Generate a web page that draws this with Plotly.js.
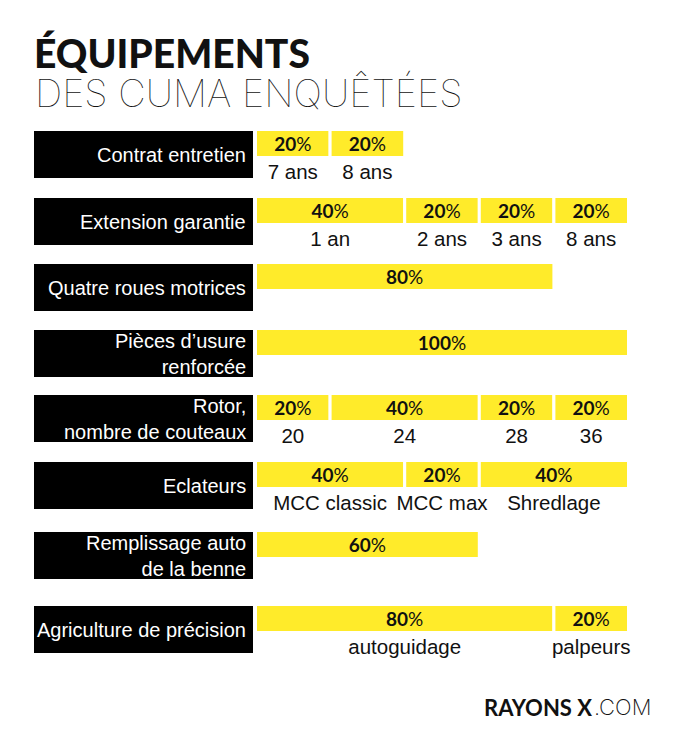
<!DOCTYPE html>
<html>
<head>
<meta charset="utf-8">
<script src="https://cdn.plot.ly/plotly-3.0.1.min.js"></script>
<style>html,body{margin:0;padding:0;background:#fff;}#chart{width:700px;height:747px;}</style>
</head>
<body>
<div id="chart"></div>
<script>
// ---- data ----
const categories = [
  "Contrat entretien",
  "Extension garantie",
  "Quatre roues motrices",
  "Pièces d’usure<br>renforcée",
  "Rotor,<br>nombre de couteaux",
  "Eclateurs",
  "Remplissage auto<br>de la benne",
  "Agriculture de précision"
];
const contratValues = [20, 20];
const contratLabels = ["7 ans", "8 ans"];
const extensionValues = [40, 20, 20, 20];
const extensionLabels = ["1 an", "2 ans", "3 ans", "8 ans"];
const quatreRouesValues = [80];
const quatreRouesLabels = [""];
const piecesValues = [100];
const piecesLabels = [""];
const rotorValues = [20, 40, 20, 20];
const rotorLabels = ["20", "24", "28", "36"];
const eclateursValues = [40, 20, 40];
const eclateursLabels = ["MCC classic", "MCC max", "Shredlage"];
const remplissageValues = [60];
const remplissageLabels = [""];
const agricultureValues = [80, 20];
const agricultureLabels = ["autoguidage", "palpeurs"];

const seriesValues = [contratValues, extensionValues, quatreRouesValues, piecesValues,
                      rotorValues, eclateursValues, remplissageValues, agricultureValues];
const seriesLabels = [contratLabels, extensionLabels, quatreRouesLabels, piecesLabels,
                      rotorLabels, eclateursLabels, remplissageLabels, agricultureLabels];

// ---- layout constants (pixels) ----
const W = 700, H = 747;
const ROW_TOP = [131, 198, 264, 330, 395, 462, 532, 606];
const BOX_H = 47, BAR_H = 25, GAP = 3;
const X0_PX = 255.5, X100_PX = 628.5;
const YELLOW = "#FFEB2A";
const pxPerUnit = (X100_PX - X0_PX) / 100;

const barX = [], barY = [], barBase = [];
const pctX = [], pctY = [], pctT = [];
const subX = [], subY = [], subT = [];
seriesValues.forEach((vals, r) => {
  let cum = 0;
  vals.forEach((v, i) => {
    barX.push(v); barBase.push(cum); barY.push(ROW_TOP[r] + BAR_H / 2);
    pctX.push(cum + v / 2); pctY.push(ROW_TOP[r] + 15); pctT.push("<b>" + v + "</b>%");
    const lab = seriesLabels[r][i];
    if (lab) { subX.push(cum + v / 2); subY.push(ROW_TOP[r] + 42.5); subT.push(lab); }
    cum += v;
  });
});

const traces = [
  {type: "bar", orientation: "h", x: barX, y: barY, base: barBase, width: BAR_H + GAP,
   marker: {color: YELLOW, line: {color: "#ffffff", width: GAP}}, hoverinfo: "skip", showlegend: false},
  {type: "scatter", mode: "text", x: pctX, y: pctY, text: pctT, textposition: "middle center",
   textfont: {family: "Lato, 'Open Sans', sans-serif", size: 19, color: "#111"}, hoverinfo: "skip", showlegend: false},
  {type: "scatter", mode: "text", x: subX, y: subY, text: subT, textposition: "middle center",
   textfont: {family: "'Liberation Sans', Arial, sans-serif", size: 20.5, color: "#111"}, hoverinfo: "skip", showlegend: false}
];

const shapes = ROW_TOP.map(t => ({
  type: "rect", xref: "paper", yref: "y", x0: 34 / W, x1: 253 / W, y0: t, y1: t + BOX_H,
  fillcolor: "#000", line: {width: 0}, layer: "below"
}));

const annotations = categories.map((c, r) => ({
  xref: "paper", yref: "y", x: 248 / W, y: ROW_TOP[r] + BOX_H / 2, xanchor: "right", yanchor: "middle",
  text: c, align: "right", showarrow: false,
  font: {family: "'Liberation Sans', Arial, sans-serif", size: 20, color: "#fff"}
}));
annotations.push({
  xref: "paper", yref: "paper", x: 33 / W, y: 1 - 93 / H, xanchor: "left", yanchor: "middle",
  text: "DES CUMA ENQUÊTÉES", showarrow: false,
  font: {family: "Inter, Lato, sans-serif", size: 38, weight: 100, color: "#111"}
});
annotations.push({
  xref: "paper", yref: "paper", x: 594 / W, y: 1 - 707 / H, xanchor: "right", yanchor: "middle",
  text: "<b>RAYONS X</b>", showarrow: false,
  font: {family: "Lato, sans-serif", size: 22, color: "#111"}
});
annotations.push({
  xref: "paper", yref: "paper", x: 592 / W, y: 1 - 707 / H, xanchor: "left", yanchor: "middle",
  text: ".COM", showarrow: false,
  font: {family: "Inter, Lato, sans-serif", size: 22, weight: 200, color: "#111"}
});

const layout = {
  width: W, height: H,
  margin: {l: 0, r: 0, t: 0, b: 0, pad: 0},
  paper_bgcolor: "#fff", plot_bgcolor: "#fff",
  title: {text: "ÉQUIPEMENTS", xref: "paper", x: 34 / W, xanchor: "left", yref: "paper", y: 1 - 54 / H, yanchor: "middle",
          font: {family: "Lato, sans-serif", size: 39, weight: 900, color: "#111"}},
  barmode: "overlay",
  xaxis: {range: [-X0_PX / pxPerUnit, (W - X0_PX) / pxPerUnit], visible: false, fixedrange: true},
  yaxis: {range: [H, 0], visible: false, fixedrange: true},
  showlegend: false,
  shapes: shapes,
  annotations: annotations
};

Plotly.newPlot("chart", traces, layout, {staticPlot: true, displayModeBar: false});
</script>
</body>
</html>
